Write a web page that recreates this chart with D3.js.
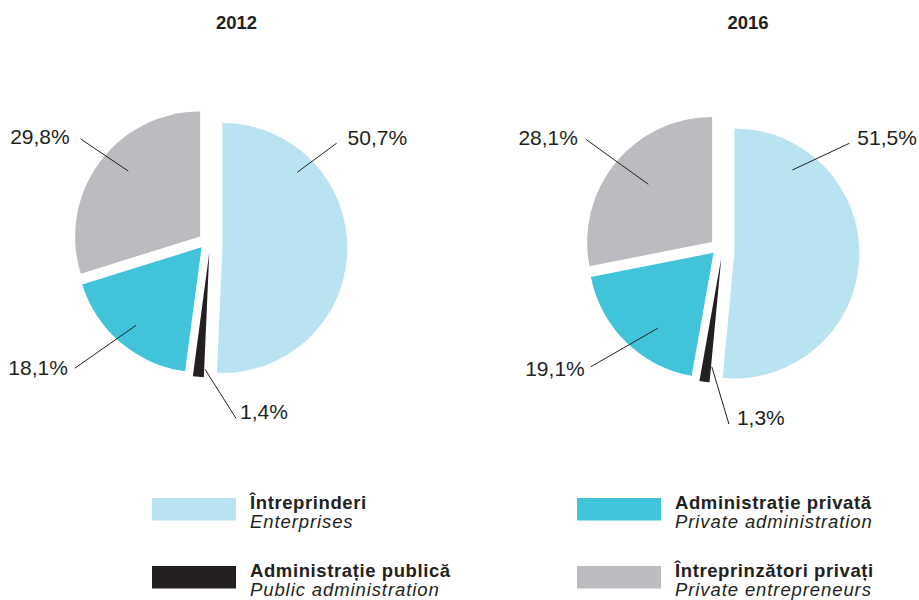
<!DOCTYPE html>
<html>
<head>
<meta charset="utf-8">
<script src="https://cdn.jsdelivr.net/npm/d3@7/dist/d3.min.js"></script>
<style>
  html, body { margin: 0; padding: 0; background: #fff; }
  svg { display: block; }
  text { font-family: "Liberation Sans", Arial, Helvetica, sans-serif; fill: #231f20; }
</style>
</head>
<body>
<svg id="chart" width="919" height="600"></svg>
<script>
// Categories (Romanian label + English subtitle), in pie order
const categoriesRo = ["Întreprinderi", "Administrație publică", "Administrație privată", "Întreprinzători privați"];
const categoriesEn = ["Enterprises", "Public administration", "Private administration", "Private entrepreneurs"];
const years = ["2012", "2016"];
// Shares, percent
const values2012 = [50.7, 1.4, 18.1, 29.8];
const values2016 = [51.5, 1.3, 19.1, 28.1];
const seriesValues = [values2012, values2016];

// Styling / layout
const colors = ["#b9e3f0", "#231f20", "#41c3da", "#bbbcc0"];
const radius = 125;
const pieCenters = [[209, 244], [721, 249.5]];
const titleX = [236.5, 748];
// Each slice is pulled away from the centre by its own vector
const sliceShift = [[13.4, 3.9], [0.3, 8.4], [-7.45, 3.3], [-8.85, -7.5]];
// Leader lines in polar form around the pie centre:
// [inner angle°, inner r, outer angle°, outer r, label dx, label dy]
const leaders = [
  [[50.9, 113.7, 51.7, 162.6, 11, 1.7], [181.8, 125.4, 171.2, 176.4, 4, 1],
   [221.9, 109.3, 227.2, 182.8, -7, 7], [312.1, 108.8, 309.3, 165.8, -11, 5]],
  [[41.9, 106.8, 50.4, 166.6, 8, 2], [184.5, 117.6, 177.4, 174.7, 8, 1],
   [218.8, 101.1, 228, 175.3, -6, 9], [311.9, 97.7, 309.2, 174.3, -8, 6]]
];

const svg = d3.select("#chart");
const pie = d3.pie().sort(null).value(d => d);
const arc = d3.arc().innerRadius(0).outerRadius(radius);
const fmt = v => v.toFixed(1).replace(".", ",") + "%";
const polar = (deg, r) => {
  const a = deg * Math.PI / 180;
  return [Math.sin(a) * r, -Math.cos(a) * r];
};

years.forEach((yr, yi) => {
  const [cx, cy] = pieCenters[yi];

  svg.append("text")
    .attr("x", titleX[yi]).attr("y", 29)
    .attr("text-anchor", "middle")
    .style("font-weight", "bold").style("font-size", "18.5px")
    .text(yr);

  const g = svg.append("g").attr("transform", `translate(${cx},${cy})`);

  g.selectAll("path.slice")
    .data(pie(seriesValues[yi]))
    .join("path")
    .attr("class", "slice")
    .attr("transform", (d, i) => `translate(${sliceShift[i][0]},${sliceShift[i][1]})`)
    .attr("d", arc)
    .attr("fill", (d, i) => colors[i]);

  seriesValues[yi].forEach((v, i) => {
    const [a1, r1, a2, r2, ldx, ldy] = leaders[yi][i];
    const p1 = polar(a1, r1), p2 = polar(a2, r2);
    g.append("line")
      .attr("x1", p1[0]).attr("y1", p1[1])
      .attr("x2", p2[0]).attr("y2", p2[1])
      .attr("stroke", "#231f20").attr("stroke-width", 1);
    g.append("text")
      .attr("x", p2[0] + ldx).attr("y", p2[1] + ldy)
      .attr("text-anchor", p2[0] >= 0 ? "start" : "end")
      .style("font-size", "21px")
      .text(fmt(v));
  });
});

// Legend: two columns, two rows
const legendCols = [152, 577];
const legendRows = [498, 566];
const legendOrder = [0, 2, 1, 3]; // reading order: left/right, then next row
legendOrder.forEach((ci, k) => {
  const x = legendCols[k % 2];
  const y = legendRows[Math.floor(k / 2)];
  svg.append("rect")
    .attr("x", x).attr("y", y)
    .attr("width", 84).attr("height", 22.5)
    .attr("fill", colors[ci]);
  svg.append("text")
    .attr("x", x + 98).attr("y", y + 11)
    .style("font-weight", "bold").style("font-size", "18.5px")
    .style("letter-spacing", "0.6px")
    .text(categoriesRo[ci]);
  svg.append("text")
    .attr("x", x + 98).attr("y", y + 30)
    .style("font-style", "italic").style("font-size", "18.5px")
    .style("letter-spacing", "0.9px")
    .text(categoriesEn[ci]);
});
</script>
</body>
</html>
